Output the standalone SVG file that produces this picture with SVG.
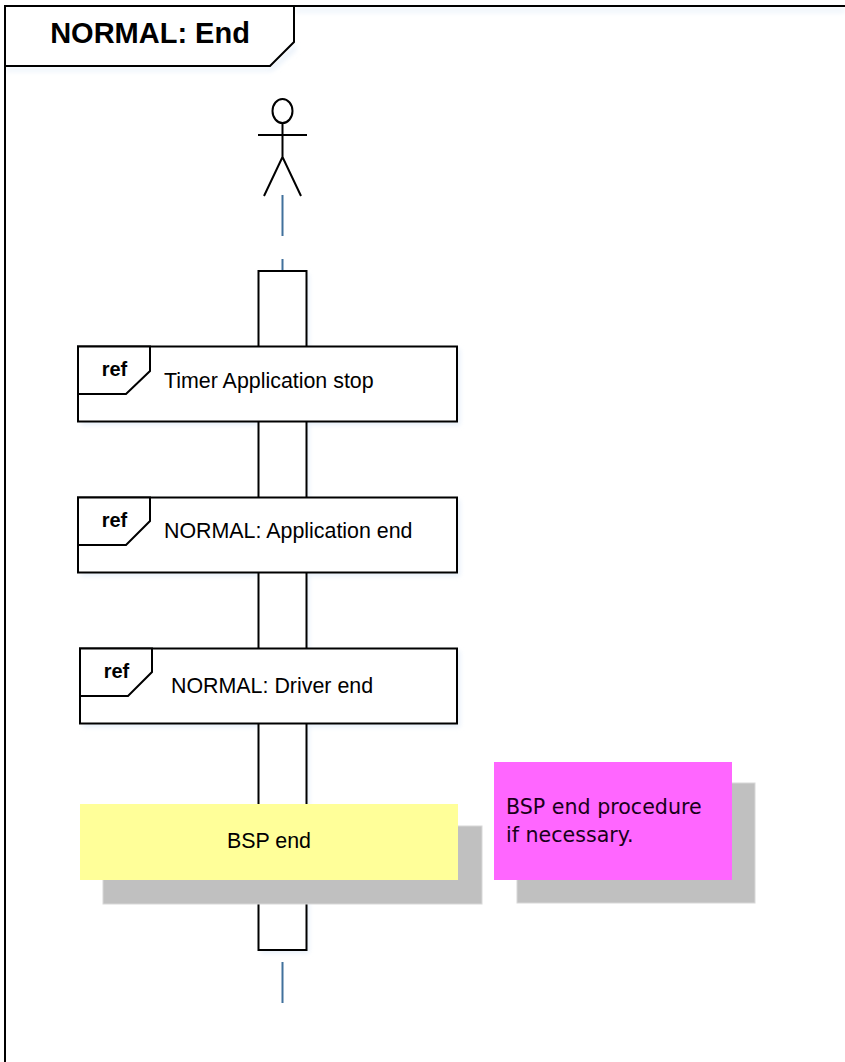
<svg xmlns="http://www.w3.org/2000/svg" width="845" height="1062" viewBox="0 0 845 1062">
<defs><filter id="glow" x="-10%" y="-10%" width="125%" height="125%"><feGaussianBlur stdDeviation="2.5"/></filter></defs>
<style>
.ln{fill:none;stroke:#000;stroke-width:2;stroke-linecap:square}
.box{fill:#fff;stroke:#000;stroke-width:2}
.sh{fill:#e6eff9;stroke:none;filter:url(#glow)}
.life{fill:none;stroke:#41719c;stroke-width:2}
.grey{fill:#c0c0c0;stroke:#d8d8d8;stroke-width:1}
text{font-family:"Liberation Sans",Arial,sans-serif;fill:#000}
.ref{font-size:20px;font-weight:700;text-anchor:middle}
.lab{font-size:21.4px}
.note{font-family:"DejaVu Sans",Verdana,sans-serif;font-size:20.6px;fill:#1a001a}
</style>
<rect width="845" height="1062" fill="#fff"/>
<g id="shadows">
<path class="sh" d="M296 9H845V12H296ZM7 68H270L296 44V50L272 71H7Z"/>
<rect class="sh" x="261" y="274" width="48" height="679"/>
<rect class="sh" x="81" y="349" width="379" height="76"/>
<rect class="sh" x="81" y="500" width="379" height="76"/>
<rect class="sh" x="83" y="651" width="377" height="76"/>
</g>
<g id="frame">
<path class="ln" d="M5 1062V6H845"/>
<path class="box" d="M5 6H294V42L270 66H5Z"/>
<text x="150" y="43" text-anchor="middle" font-size="29" font-weight="700">NORMAL: End</text>
</g>
<g id="connectors">
<path class="life" d="M282.500 195V236M282.500 259V271M282.500 962V1003"/>
</g>
<g id="actor">
<ellipse cx="282.500" cy="111" rx="10" ry="12" fill="none" stroke="#000" stroke-width="2"/>
<path d="M258 135H307M282.500 123V157M282.500 157L264 196M282.500 157L301 196" fill="none" stroke="#000" stroke-width="2"/>
</g>
<g id="activation">
<rect class="box" x="258.500" y="271" width="48" height="679"/>
</g>
<g id="ref1">
<rect class="box" x="78" y="346.500" width="379" height="75"/>
<path class="box" d="M78 346.500H150V371L126 394H78Z"/>
<text class="ref" x="114.500" y="376">ref</text>
<text class="lab" x="164" y="388">Timer Application stop</text>
</g>
<g id="ref2">
<rect class="box" x="78" y="497.500" width="379" height="75"/>
<path class="box" d="M78 497.500H150V521L126 545H78Z"/>
<text class="ref" x="114.500" y="527">ref</text>
<text class="lab" x="164" y="538">NORMAL: Application end</text>
</g>
<g id="ref3">
<rect class="box" x="80" y="648.500" width="377" height="75"/>
<path class="box" d="M80 648.500H152V672L128 696H80Z"/>
<text class="ref" x="116.500" y="678">ref</text>
<text class="lab" x="171" y="693">NORMAL: Driver end</text>
</g>
<g id="bsp">
<rect class="grey" x="103" y="826" width="379" height="78"/>
<rect x="80" y="804" width="378" height="76" fill="#ffff99"/>
<text x="269" y="848" text-anchor="middle" font-size="21.4">BSP end</text>
</g>
<g id="note">
<rect class="grey" x="517" y="783" width="238" height="120"/>
<rect x="494" y="762" width="238" height="118" fill="#ff66ff"/>
<text class="note" x="506" y="814">BSP end procedure</text>
<text class="note" x="506" y="842">if necessary.</text>
</g>
</svg>
